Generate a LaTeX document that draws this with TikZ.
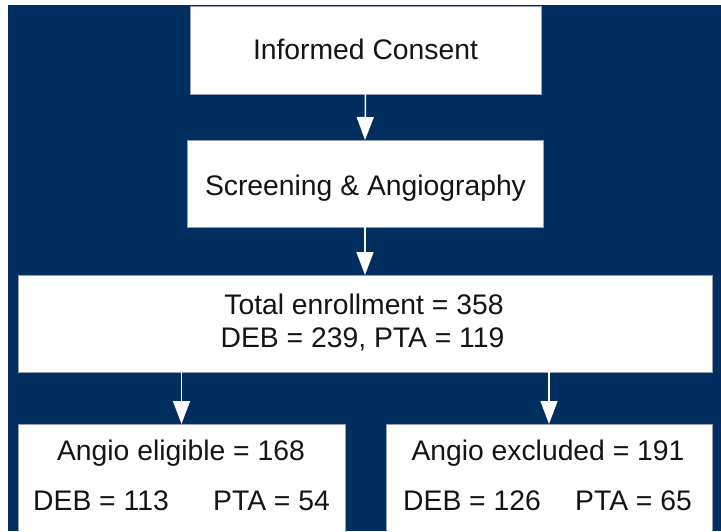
\documentclass[tikz,border=0pt]{standalone}
\usepackage{fontspec}
\setmainfont{Liberation Sans}
\usetikzlibrary{arrows.meta}
\definecolor{navy}{RGB}{0,46,95}
\definecolor{boxline}{RGB}{150,160,180}
\definecolor{ink}{RGB}{20,20,20}
\tikzset{
  flowbox/.style={draw=boxline, line width=0.8pt, fill=white, inner sep=0pt, outer sep=0pt},
  label/.style={text=ink, inner sep=0pt, font=\fontsize{28.3}{32.5}\selectfont},
  flowarrow/.style={draw=white, line width=1.5pt, -{Triangle[width=17pt,length=23pt,fill=white]}}
}
\begin{document}
\begin{tikzpicture}[x=1pt,y=-1pt]
  \useasboundingbox (0,0) rectangle (721,531);
  \clip (0,0) rectangle (721,531);
  % background panel
  \fill[white] (0,0) rectangle (721,531);
  \fill[navy] (8,5) rectangle (721,531);

  % boxes
  \node[flowbox, minimum width=351pt, minimum height=88pt] (consent) at (365.5,50) {};
  \node[flowbox, minimum width=356pt, minimum height=87pt] (screen) at (365,183.5) {};
  \node[flowbox, minimum width=694pt, minimum height=97pt] (total) at (365,323.5) {};
  \node[flowbox, minimum width=327pt, minimum height=112pt] (elig) at (181.5,480) {};
  \node[flowbox, minimum width=326pt, minimum height=112pt] (excl) at (549,480) {};

  % texts
  \node[label, anchor=base] (tconsent) at (365.5,59) {Informed Consent};
  \node[label, anchor=base] (tscreen) at (365.5,195) {Screening \& Angiography};
  \node[label, anchor=base] (ttotal1) at (364,314) {Total enrollment = 358};
  \node[label, anchor=base] (ttotal2) at (362.5,347) {DEB = 239, PTA = 119};
  \node[label, anchor=base] (telig) at (181,460) {Angio eligible = 168};
  \node[label, anchor=base west] (teligdeb) at (33,510) {DEB = 113};
  \node[label, anchor=base west] (teligpta) at (213,510) {PTA = 54};
  \node[label, anchor=base] (texcl) at (548,460) {Angio excluded = 191};
  \node[label, anchor=base west] (texcldeb) at (403,510) {DEB = 126};
  \node[label, anchor=base west] (texclpta) at (575,510) {PTA = 65};

  % connectors
  \draw[flowarrow] (consent.south) -- (screen.north);
  \draw[flowarrow] (screen.south) -- (total.north);
  \draw[flowarrow] (total.south -| elig.north) -- (elig.north);
  \draw[flowarrow] (total.south -| excl.north) -- (excl.north);
\end{tikzpicture}
\end{document}
